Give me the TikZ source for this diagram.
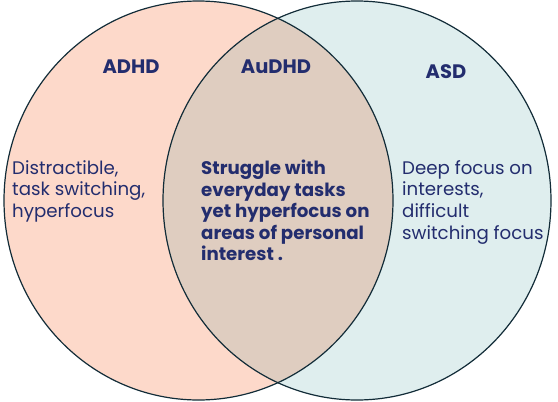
\documentclass[tikz,border=0pt]{standalone}
\usepackage{fontspec}
\setmainfont{Poppins}
\definecolor{peach}{RGB}{253,217,202}
\definecolor{overlap}{RGB}{223,205,192}
\definecolor{mint}{RGB}{223,238,238}
\definecolor{edge}{RGB}{18,44,56}
\definecolor{navy}{RGB}{35,45,110}
\tikzset{
  setshape/.style={draw=edge, line width=1.2pt},
  heading/.style={font=\fontsize{19.5}{22}\selectfont\bfseries, text=navy, inner sep=0pt, anchor=base},
  bodytext/.style={font=\fontsize{18.2}{21.7}\selectfont, text=navy, inner sep=0pt, anchor=north west, align=left},
  midtext/.style={font=\fontsize{18.2}{21.5}\selectfont\bfseries, text=navy, inner sep=0pt, anchor=north west, align=left}
}
\begin{document}
\begin{tikzpicture}[x=1pt,y=-1pt]
\useasboundingbox (0,0) rectangle (558,402);
\fill[peach] (198.5,200.5) ellipse [x radius=194.5, y radius=199.5];
\fill[mint] (357,200.5) ellipse [x radius=194, y radius=199.5];
\begin{scope}
  \clip (198.5,200.5) ellipse [x radius=194.5, y radius=199.5];
  \fill[overlap] (357,200.5) ellipse [x radius=194, y radius=199.5];
\end{scope}
\draw[setshape] (198.5,200.5) ellipse [x radius=194.5, y radius=199.5];
\draw[setshape] (357,200.5) ellipse [x radius=194, y radius=199.5];
\node[heading] (adhd) at (131,73) {ADHD};
\node[heading] (audhd) at (276,73) {AuDHD};
\node[heading] (asd) at (446,78) {ASD};
\node[bodytext] (left) at (12,160) {Distractible,\\task switching,\\hyperfocus};
\node[midtext] (mid) at (201,160) {Struggle with\\everyday tasks\\yet hyperfocus on\\areas of personal\\interest .};
\node[bodytext] (right) at (402,160) {Deep focus on\\interests,\\difficult\\switching focus};
\end{tikzpicture}
\end{document}
